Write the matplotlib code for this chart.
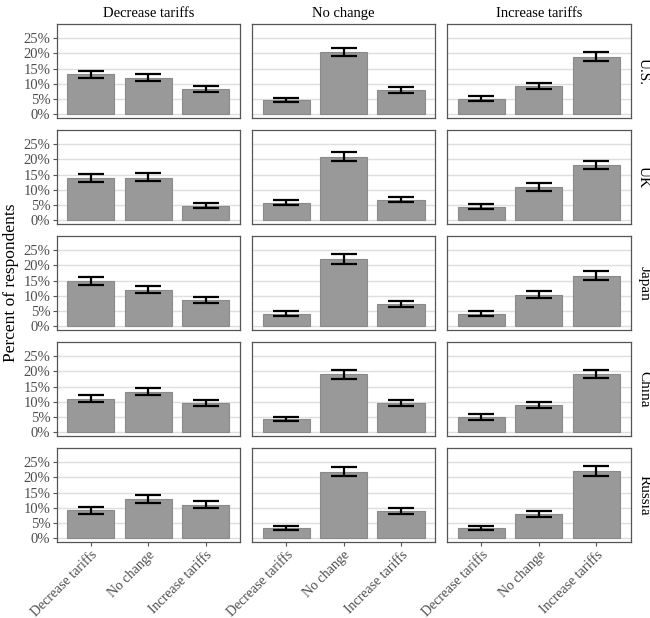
import matplotlib

matplotlib.use("Agg")
import matplotlib.pyplot as plt
import numpy as np

plt.rcParams["font.family"] = ["Liberation Serif", "DejaVu Serif"]

COUNTRIES = ["U.S.", "UK", "Japan", "China", "Russia"]
PANELS = ["Decrease tariffs", "No change", "Increase tariffs"]
CATEGORIES = ["Decrease tariffs", "No change", "Increase tariffs"]
YTICKS = [0, 5, 10, 15, 20, 25]

# percent of respondents, [country][panel][category]
VALUES = {
    "U.S.": [[13.1, 12.0, 8.1], [4.6, 20.4, 7.8], [5.0, 9.1, 18.8]],
    "UK": [[13.7, 14.0, 4.6], [5.7, 20.9, 6.5], [4.2, 10.8, 18.2]],
    "Japan": [[14.8, 12.0, 8.6], [3.9, 22.0, 7.2], [4.0, 10.4, 16.6]],
    "China": [[11.0, 13.3, 9.5], [4.2, 19.0, 9.5], [4.8, 8.9, 19.2]],
    "Russia": [[9.2, 12.9, 11.0], [3.4, 21.9, 8.9], [3.4, 7.8, 22.1]],
}
LOWER = {
    "U.S.": [[11.9, 11.0, 7.3], [3.9, 19.0, 6.8], [4.3, 8.1, 17.5]],
    "UK": [[12.5, 12.8, 3.9], [4.9, 19.6, 5.8], [3.5, 9.6, 16.9]],
    "Japan": [[13.5, 10.9, 7.6], [3.3, 20.5, 6.2], [3.4, 9.2, 15.3]],
    "China": [[10.0, 12.3, 8.6], [3.5, 17.5, 8.6], [4.1, 7.9, 17.8]],
    "Russia": [[8.1, 11.6, 9.9], [2.7, 20.5, 7.9], [2.7, 6.8, 20.6]],
}
UPPER = {
    "U.S.": [[14.3, 13.3, 9.3], [5.4, 21.9, 8.8], [6.0, 10.3, 20.4]],
    "UK": [[15.1, 15.5, 5.7], [6.6, 22.4, 7.5], [5.2, 12.1, 19.6]],
    "Japan": [[16.2, 13.3, 9.7], [4.8, 23.7, 8.4], [5.0, 11.7, 18.1]],
    "China": [[12.2, 14.5, 10.6], [4.9, 20.4, 10.6], [5.8, 10.0, 20.6]],
    "Russia": [[10.4, 14.2, 12.3], [4.1, 23.6, 10.0], [4.1, 9.0, 23.8]],
}


def main() -> None:
    fig, axes = plt.subplots(5, 3, figsize=(6.5, 6.18), dpi=100, sharex=True, sharey=True)
    fig.subplots_adjust(left=56.5 / 650, right=630.7 / 650, top=1 - 24 / 618,
                        bottom=1 - 542.3 / 618, wspace=0.0625, hspace=0.125)
    x = np.arange(1, 4)

    for r, country in enumerate(COUNTRIES):
        for c, panel in enumerate(PANELS):
            ax = axes[r, c]
            vals = np.array(VALUES[country][c])
            lo = vals - np.array(LOWER[country][c])
            hi = np.array(UPPER[country][c]) - vals
            ax.bar(x, vals, width=0.82, color="#999999", edgecolor="#8a8a8a",
                   linewidth=0.8, zorder=2)
            ax.errorbar(x, vals, yerr=[lo, hi], fmt="none", ecolor="black",
                        elinewidth=1.6, capsize=9.5, capthick=1.6, zorder=3)
            ax.set_xlim(0.4, 3.6)
            ax.set_ylim(-1.4, 29.7)
            ax.set_yticks(YTICKS)
            ax.set_yticklabels([f"{t}%" for t in YTICKS])
            ax.grid(axis="y", color="#dedede", linewidth=1.0, zorder=0)
            ax.set_axisbelow(True)
            for sp in ax.spines.values():
                sp.set_color("#555555")
                sp.set_linewidth(0.9)
            ax.tick_params(axis="both", colors="#555555", labelcolor="#4d4d4d",
                           labelsize=10.5, length=3, width=0.8, pad=1.5)
            if c != 0:
                ax.tick_params(axis="y", left=False)
            if r != len(COUNTRIES) - 1:
                ax.tick_params(axis="x", bottom=False)
            if r == 0:
                ax.set_title(panel, fontsize=10.5, pad=5)
            if c == 2:
                ax.text(1.035, 0.5, country, transform=ax.transAxes, rotation=-90,
                        ha="left", va="center", fontsize=11)

    for ax in axes[-1]:
        ax.set_xticks(x)
        ax.set_xticklabels(CATEGORIES, rotation=45, ha="right", rotation_mode="anchor",
                           fontsize=10)

    fig.text(0.004, 1 - 283 / 618, "Percent of respondents", rotation=90, ha="left",
             va="center", fontsize=12.5)
    fig.savefig("out.png", dpi=100)


if __name__ == "__main__":
    main()
